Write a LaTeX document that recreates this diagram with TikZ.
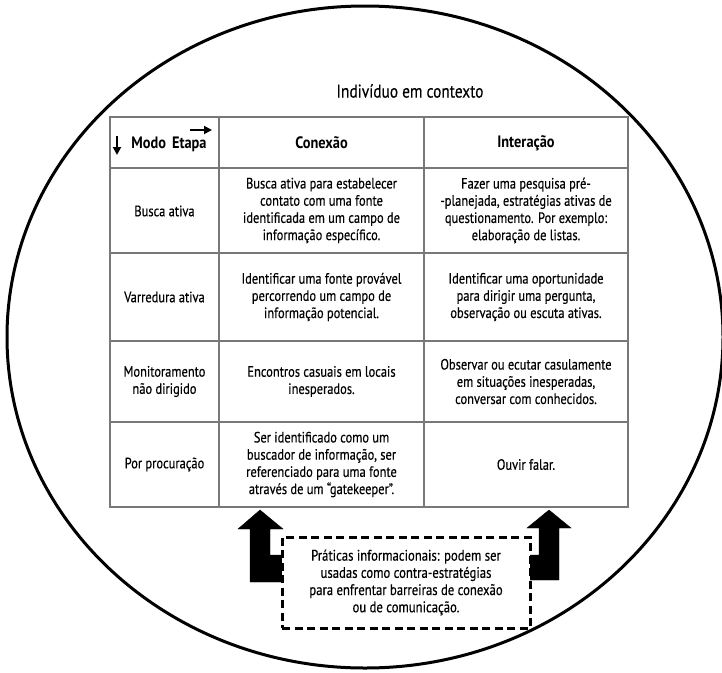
\documentclass[tikz,border=0pt]{standalone}
\usepackage{fontspec}
\setmainfont[FakeStretch=0.83,FakeBold=0.35]{PT Sans}
\newfontfamily\headfont[FakeStretch=0.87]{PT Sans}
\usetikzlibrary{arrows.meta}
\tikzset{
  cell/.style={align=center, inner sep=0pt, font=\fontsize{15}{17.2}\selectfont},
  head/.style={align=center, inner sep=0pt, font=\fontsize{16.5}{17}\selectfont\headfont\bfseries},
  grid/.style={draw={rgb,255:red,120;green,120;blue,120}, line width=1.4pt},
  blockarrow/.style={fill=black, draw=black, line width=0.4pt},
  note/.style={draw=black, dash pattern=on 8pt off 4.5pt, line width=3pt, fill=white,
    minimum width=248pt, minimum height=91pt, align=center, inner sep=0pt,
    font=\fontsize{15.3}{17.2}\selectfont},
  smallarrow/.style={line width=1.8pt, -{Triangle[length=8pt,width=8pt]}}
}
\begin{document}
\begin{tikzpicture}[x=1pt,y=-1pt]
\useasboundingbox (0,0) rectangle (722,672);
% context ellipse
\draw[line width=3pt] (365,337) ellipse [x radius=358, y radius=331];
\node[font=\fontsize{18.5}{20}\selectfont] (title) at (410,91) {Indivíduo em contexto};
% table grid
\draw[grid] (110,117) rectangle (628,507);
\foreach \x in {219,424} \draw[grid] (\x,117) -- (\x,507);
\foreach \y in {168,253,341,422} \draw[grid] (110,\y) -- (628,\y);
% header
\node[head] (modo) at (169,144) {Modo\hspace{6pt}Etapa};
\coordinate (da1) at (117,136);
\coordinate (da2) at (117,155);
\draw[smallarrow] (da1) -- (da2);
\coordinate (ra1) at (190,130);
\coordinate (ra2) at (212,130);
\draw[smallarrow] (ra1) -- (ra2);
\node[head] (conexao) at (321.5,143) {Conexão};
\node[head] (interacao) at (526,143) {Interação};
% row 1
\node[cell] (r1a) at (164.5,211) {Busca ativa};
\node[cell] (r1b) at (321.5,210.5) {Busca ativa para estabelecer\\contato com uma fonte\\identificada em um campo de\\informação específico.};
\node[cell] (r1c) at (526,210.5) {Fazer uma pesquisa pré-\\-planejada, estratégias ativas de\\questionamento. Por exemplo:\\elaboração de listas.};
% row 2
\node[cell] (r2a) at (164.5,297) {Varredura ativa};
\node[cell] (r2b) at (321.5,297) {Identificar uma fonte provável\\percorrendo um campo de\\informação potencial.};
\node[cell] (r2c) at (526,297) {Identificar uma oportunidade\\para dirigir uma pergunta,\\observação ou escuta ativas.};
% row 3
\node[cell] (r3a) at (164.5,381.5) {Monitoramento\\não dirigido};
\node[cell] (r3b) at (321.5,381.5) {Encontros casuais em locais\\inesperados.};
\node[cell] (r3c) at (526,381.5) {Observar ou ecutar casulamente\\em situações inesperadas,\\conversar com conhecidos.};
% row 4
\node[cell] (r4a) at (164.5,464.5) {Por procuração};
\node[cell] (r4b) at (321.5,464.5) {Ser identificado como um\\buscador de informação, ser\\referenciado para uma fonte\\através de um “gatekeeper”.};
\node[cell] (r4c) at (526,464.5) {Ouvir falar.};
% block arrows
\fill[blockarrow] (260,510) -- (283,529) -- (270,529) -- (270,555) -- (284,555) -- (284,582) -- (250,582) -- (250,529) -- (238,529) -- cycle;
\fill[blockarrow] (549,510) -- (571,528) -- (559,528) -- (559,580) -- (529,580) -- (529,555) -- (539,555) -- (539,528) -- (527,528) -- cycle;
% note box
\node[note] (pi) at (406,582.5) {Práticas informacionais: podem ser\\usadas como contra-estratégias\\para enfrentar barreiras de conexão\\ou de comunicação.};
\end{tikzpicture}
\end{document}
